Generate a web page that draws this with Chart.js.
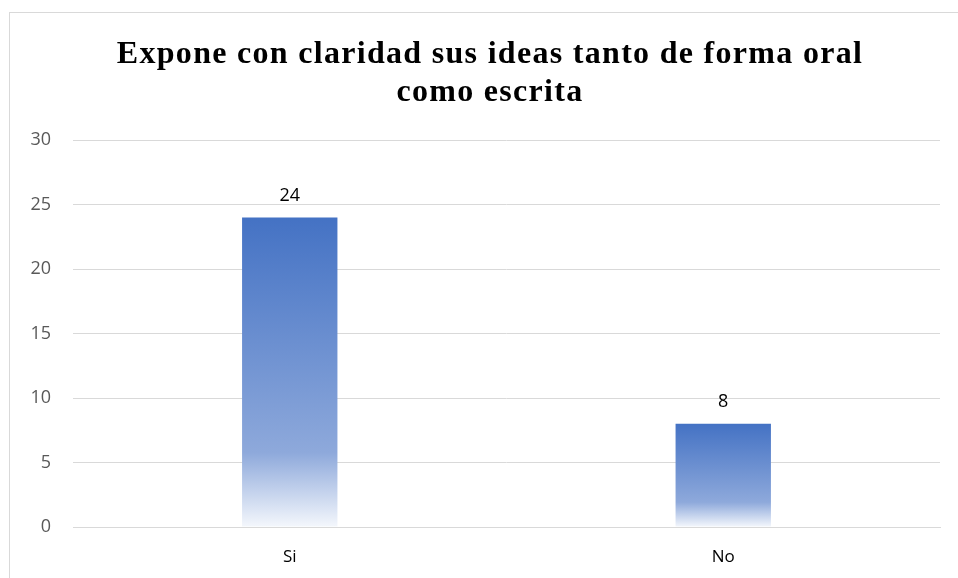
<!DOCTYPE html>
<html>
<head>
<meta charset="utf-8">
<script src="https://cdn.jsdelivr.net/npm/chart.js@4/dist/chart.umd.min.js"></script>
<style>
    body { margin: 0; background: #fff; overflow: hidden; }
    #frame {
        position: absolute; left: 9px; top: 12px;
        width: 960px; height: 580px;
        border: 1px solid #d9d9d9;
    }
    #wrap { position: absolute; left: 0; top: 0; width: 948px; height: 565px; }
</style>
</head>
<body>
<div id="frame"><div id="wrap"><canvas id="myChart"></canvas></div></div>
<script>
// Chart data
var categories = ["Si", "No"];
var values = [24, 8];
var yTicks = [0, 5, 10, 15, 20, 25, 30];
var titleLines = ["Expone con claridad sus ideas tanto de forma oral", "como escrita"];

// gradient for each bar, from its top down to the axis
function barGradient(context) {
    var chart = context.chart;
    if (!chart.chartArea || context.parsed === undefined) return "#4472C4";
    var y = chart.scales.y;
    var top = y.getPixelForValue(context.parsed.y);
    var bottom = y.getPixelForValue(0);
    var g = chart.ctx.createLinearGradient(0, top, 0, bottom);
    g.addColorStop(0, "#4472C4");
    g.addColorStop(0.76, "#8EA9DB");
    g.addColorStop(1, "#F4F7FC");
    return g;
}

// title drawn by hand so the letter spacing can follow the picture
var wideTitle = {
    id: "wideTitle",
    afterDraw: function (chart) {
        var ctx = chart.ctx;
        ctx.save();
        ctx.font = "bold 32px 'Liberation Serif', serif";
        ctx.fillStyle = "#000";
        ctx.textAlign = "center";
        ctx.textBaseline = "alphabetic";
        ctx.letterSpacing = "1.3px";
        var cx = chart.width / 2 + 6;
        titleLines.forEach(function (line, i) {
            ctx.fillText(line, cx, 50 + i * 38);
        });
        ctx.restore();
    }
};

// value labels above bars
var valueLabels = {
    id: "valueLabels",
    afterDatasetsDraw: function (chart) {
        var ctx = chart.ctx;
        var meta = chart.getDatasetMeta(0);
        ctx.save();
        ctx.font = "18px 'Open Sans', sans-serif";
        ctx.fillStyle = "#000";
        ctx.textAlign = "center";
        ctx.textBaseline = "bottom";
        meta.data.forEach(function (bar, i) {
            ctx.fillText(values[i], bar.x, bar.y - 13);
        });
        ctx.restore();
    }
};

var myChart = document.getElementById("myChart").getContext("2d");
var chart = new Chart(myChart, {
    type: "bar",
    data: {
        labels: categories,
        datasets: [{
            data: values,
            backgroundColor: barGradient,
            borderWidth: 0,
            barPercentage: 0.22,
            categoryPercentage: 1
        }]
    },
    options: {
        responsive: true,
        maintainAspectRatio: false,
        animation: false,
        layout: { padding: { left: 0, right: 18, top: 127, bottom: 8 } },
        plugins: {
            legend: { display: false },
            tooltip: { enabled: false },
            title: { display: false }
        },
        scales: {
            x: {
                afterFit: function (scale) { scale.height = 43; },
                grid: { display: false, drawTicks: false },
                border: { display: true, color: "#d9d9d9" },
                ticks: { color: "#000", font: { family: "'Open Sans', sans-serif", size: 17 }, padding: 20 }
            },
            y: {
                min: 0,
                max: 30,
                afterBuildTicks: function (scale) {
                    scale.ticks = yTicks.map(function (v) { return { value: v }; });
                },
                afterFit: function (scale) { scale.width = 63; },
                grid: { color: "#d9d9d9", drawTicks: false },
                border: { display: false },
                ticks: { color: "#595959", font: { family: "'Open Sans', sans-serif", size: 18 }, padding: 22 }
            }
        }
    },
    plugins: [valueLabels, wideTitle]
});
</script>
</body>
</html>
